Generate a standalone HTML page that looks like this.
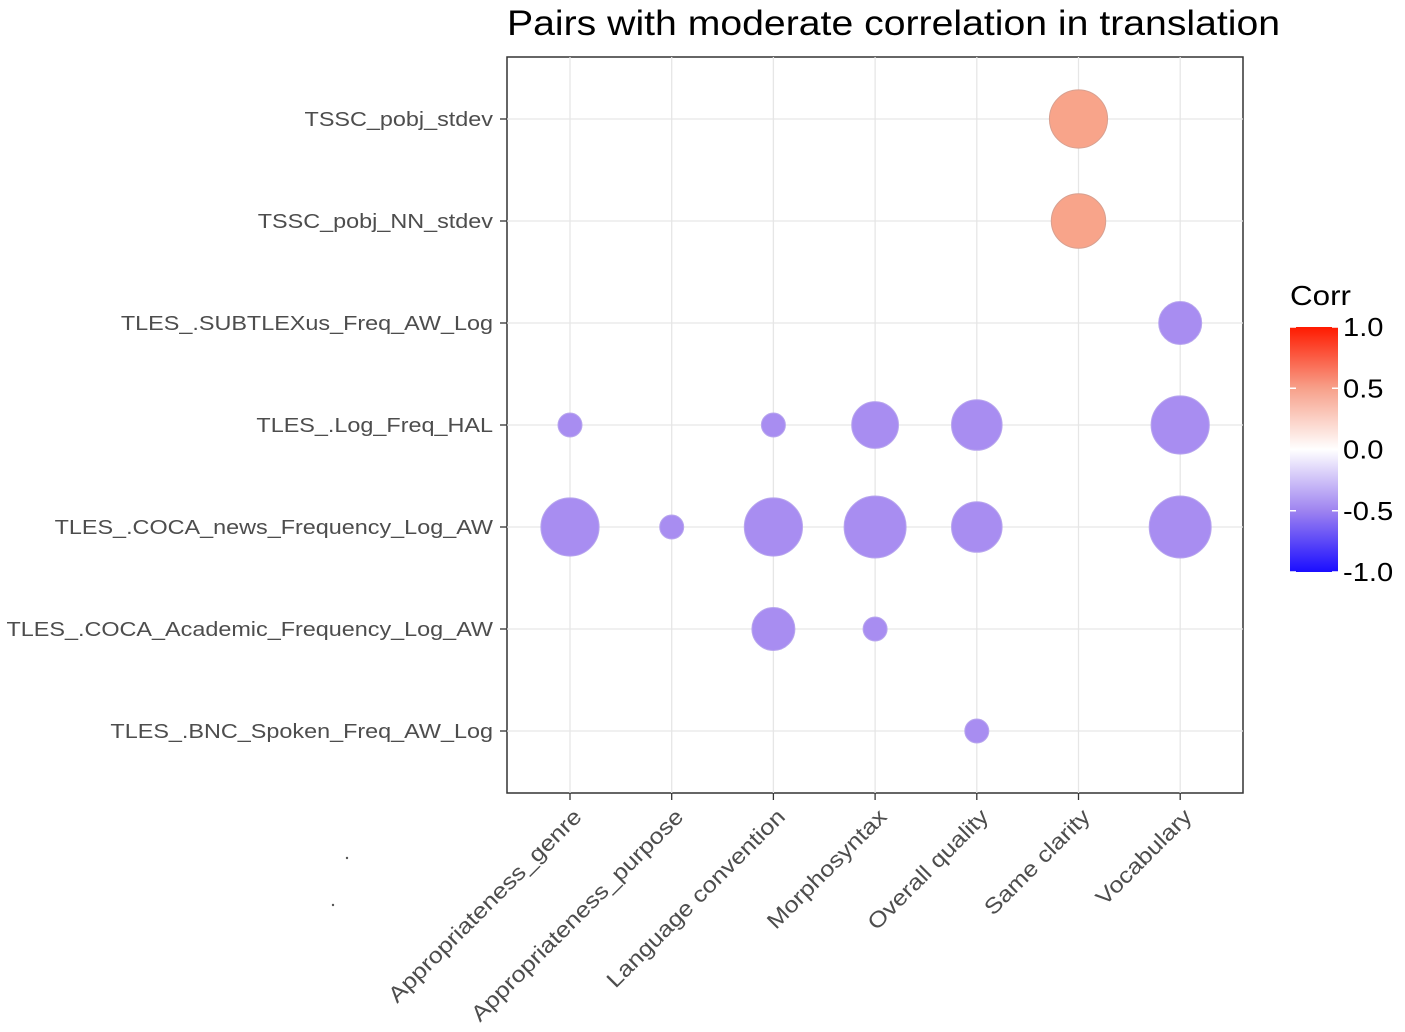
<!DOCTYPE html>
<html><head><meta charset="utf-8"><style>
html,body{margin:0;padding:0;background:#fff;}
svg{display:block;font-family:"Liberation Sans",Arial,sans-serif;}
</style></head><body>
<svg id="chart" width="1405" height="1032" viewBox="0 0 1405 1032">
<defs>
<linearGradient id="cbar" x1="0" y1="0" x2="0" y2="1">
<stop offset="0" stop-color="#ff1a00"/>
<stop offset="0.25" stop-color="#f7a08a"/>
<stop offset="0.5" stop-color="#ffffff"/>
<stop offset="0.75" stop-color="#9e83f0"/>
<stop offset="1" stop-color="#1a0dff"/>
</linearGradient>
</defs>
<text transform="translate(507,35) scale(1.12,1)" x="0" y="0" font-size="35" fill="#000">Pairs with moderate correlation in translation</text>
<rect x="507" y="57" width="736" height="736" fill="#fff" stroke="#333" stroke-width="1.5"/>
<g id="grid"></g>
<g id="bubbles"></g>
<g id="ylabels"></g>
<g id="xlabels"></g>
<g>
<text transform="translate(1290,305) scale(1.12,1)" font-size="28" fill="#000">Corr</text>
<rect x="1290" y="327" width="48" height="245" fill="url(#cbar)"/>
<g id="cbticks"></g>
</g>
<circle cx="347" cy="858" r="1.2" fill="#555"/>
<circle cx="333" cy="905" r="1.2" fill="#555"/>
</svg>
<script>
const xCategories=["Appropriateness_genre","Appropriateness_purpose","Language convention","Morphosyntax","Overall quality","Same clarity","Vocabulary"];
const yCategories=["TSSC_pobj_stdev","TSSC_pobj_NN_stdev","TLES_.SUBTLEXus_Freq_AW_Log","TLES_.Log_Freq_HAL","TLES_.COCA_news_Frequency_Log_AW","TLES_.COCA_Academic_Frequency_Log_AW","TLES_.BNC_Spoken_Freq_AW_Log"];
const pairX=[5,5,6,0,2,3,4,6,0,1,2,3,4,6,2,3,4];
const pairY=[0,1,2,3,3,3,3,3,4,4,4,4,4,4,5,5,6];
const corrValues=[0.49,0.48,-0.45,-0.40,-0.40,-0.46,-0.47,-0.49,-0.49,-0.40,-0.49,-0.50,-0.47,-0.50,-0.45,-0.40,-0.40];
const legendTicks=[1.0,0.5,0.0,-0.5,-1.0];
const NS="http://www.w3.org/2000/svg";
const xPos=i=>570+i*101.7;
const yPos=j=>119+j*102;
const rScale=v=>12+(Math.abs(v)-0.40)*190;
const cbY=v=>327+(1-v)/2*245;
function color(v){return v>0?"rgb(248,164,138)":"rgb(168,141,241)";}
function mk(tag,attrs,parent){const e=document.createElementNS(NS,tag);for(const k in attrs)e.setAttribute(k,attrs[k]);parent.appendChild(e);return e;}
const grid=document.getElementById("grid");
xCategories.forEach((c,i)=>{
  const l=mk("line",{x1:xPos(i),x2:xPos(i),y1:57,y2:793,stroke:"#e6e6e6","stroke-width":1.3},grid);
  
  
  mk("line",{x1:xPos(i),x2:xPos(i),y1:793,y2:800,stroke:"#333","stroke-width":1.3},grid);
});
yCategories.forEach((c,j)=>{
  const l=mk("line",{x1:507,x2:1243,y1:yPos(j),y2:yPos(j),stroke:"#e6e6e6","stroke-width":1.3},grid);
  
  
  mk("line",{x1:500,x2:507,y1:yPos(j),y2:yPos(j),stroke:"#333","stroke-width":1.3},grid);
});
const bub=document.getElementById("bubbles");
corrValues.forEach((v,k)=>{
  const c=mk("circle",{cx:xPos(pairX[k]),cy:yPos(pairY[k]),r:rScale(v),fill:color(v),stroke:v>0?"#d8a090":"#b8a6ee","stroke-width":1},bub);
  
  
});
const yl=document.getElementById("ylabels");
yCategories.forEach((c,j)=>{
  const t=mk("text",{transform:"translate(493,"+(yPos(j)+7)+") scale(1.17,1)","text-anchor":"end","font-size":20,fill:"#4d4d4d"},yl);
  t.textContent=c;
  
  
});
const xl=document.getElementById("xlabels");
xCategories.forEach((c,i)=>{
  const x=xPos(i)+13,y=818;
  const t=mk("text",{transform:"translate("+x+","+y+") rotate(-45) scale(1.15,1)","text-anchor":"end","font-size":22,fill:"#4d4d4d"},xl);
  t.textContent=c;
  
  
});
const cb=document.getElementById("cbticks");
legendTicks.forEach(v=>{
  const y=cbY(v);
  mk("line",{x1:1290,x2:1296,y1:y,y2:y,stroke:"#fff","stroke-width":1.5},cb);
  mk("line",{x1:1332,x2:1338,y1:y,y2:y,stroke:"#fff","stroke-width":1.5},cb);
  const t=mk("text",{transform:"translate(1343,"+(y+9)+") scale(1.12,1)","font-size":26,fill:"#000"},cb);
  t.textContent=v.toFixed(1);
  
  
});
</script>
</body></html>
